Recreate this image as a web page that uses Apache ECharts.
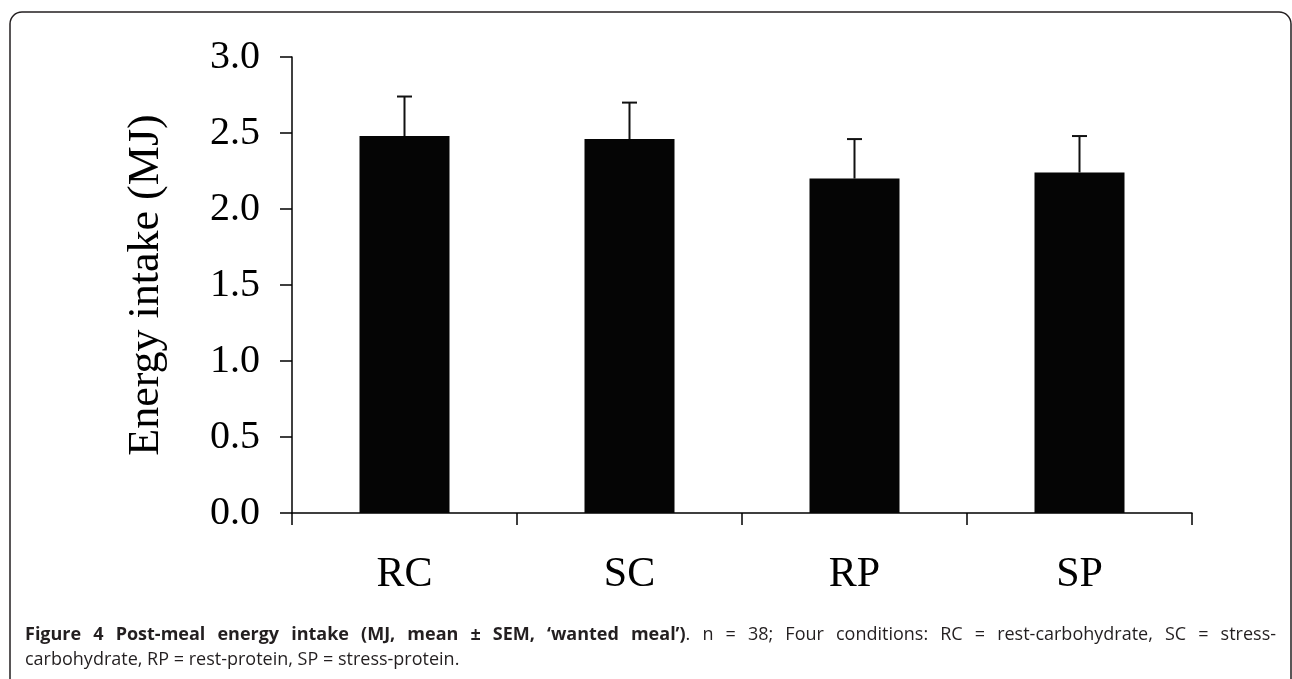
<!DOCTYPE html>
<html>
<head>
<meta charset="utf-8">
<script src="https://cdn.jsdelivr.net/npm/echarts@6/dist/echarts.min.js"></script>
<style>
html,body{margin:0;padding:0;background:#fff;}
#chart{width:1292px;height:679px;}
</style>
</head>
<body>
<div id="chart"></div>
<script>
var categories = ['RC', 'SC', 'RP', 'SP'];
var meanValues = [2.48, 2.46, 2.20, 2.24];
var semValues = [0.26, 0.24, 0.26, 0.24];
var yTicks = { min: 0, max: 3, interval: 0.5 };
var yAxisTitle = 'Energy intake (MJ)';
var captionBold = 'Figure 4 Post-meal energy intake (MJ, mean ± SEM, ‘wanted meal’)';
var captionRest1 = '. n = 38; Four conditions: RC = rest-carbohydrate, SC = stress-';
var captionLine2 = 'carbohydrate, RP = rest-protein, SP = stress-protein.';

var chart = echarts.init(document.getElementById('chart'));
var serif = '"Liberation Serif", "Times New Roman", serif';
var sans = '"Open Sans", "Noto Sans", sans-serif';
var capSize = 18;
var capColor = '#231f20';

var errData = meanValues.map(function (v, i) { return [i, v, v + semValues[i]]; });

// ---- justified first caption line (text layout only) ----
var ctx = document.createElement('canvas').getContext('2d');
function measure(t, bold) {
  ctx.font = (bold ? 'bold ' : '') + capSize + 'px ' + sans;
  return ctx.measureText(t).width;
}
var tokens = captionBold.split(' ').map(function (w) { return [{ t: w, b: true }]; });
var restStr = captionRest1;
if (restStr.charAt(0) === '.') {
  tokens[tokens.length - 1].push({ t: '.', b: false });
  restStr = restStr.slice(1);
}
restStr.trim().split(' ').forEach(function (w) { tokens.push([{ t: w, b: false }]); });
var tokWidths = tokens.map(function (tk) {
  return tk.reduce(function (s, seg) { return s + measure(seg.t, seg.b); }, 0);
});
var lineLeft = 25, lineRight = 1276;
var totalW = tokWidths.reduce(function (a, b) { return a + b; }, 0);
var gap = (lineRight - lineLeft - totalW) / (tokens.length - 1);
var captionGraphics = [];
var cx = lineLeft;
tokens.forEach(function (tk, i) {
  var txt = tk.map(function (seg) { return '{' + (seg.b ? 'b' : 'n') + '|' + seg.t + '}'; }).join('');
  captionGraphics.push({
    type: 'text', x: cx, y: 626, silent: true,
    style: {
      text: txt, align: 'left', verticalAlign: 'top',
      rich: {
        b: { fontFamily: sans, fontSize: capSize, fontWeight: 'bold', fill: capColor },
        n: { fontFamily: sans, fontSize: capSize, fill: capColor }
      }
    }
  });
  cx += tokWidths[i] + gap;
});
captionGraphics.push({
  type: 'text', x: lineLeft, y: 651, silent: true,
  style: { text: captionLine2, fontFamily: sans, fontSize: capSize, fill: capColor, align: 'left', verticalAlign: 'top' }
});

chart.setOption({
  animation: false,
  grid: { left: 292, right: 100, top: 57, bottom: 166, containLabel: false },
  xAxis: {
    type: 'category',
    data: categories,
    axisLine: { lineStyle: { color: '#000', width: 1.5 } },
    axisTick: { show: true, length: 12, inside: false, lineStyle: { color: '#000', width: 1.5 } },
    axisLabel: { color: '#000', fontFamily: serif, fontSize: 42, margin: 41, lineHeight: 42 },
    splitLine: { show: false }
  },
  yAxis: {
    type: 'value',
    min: yTicks.min, max: yTicks.max, interval: yTicks.interval,
    name: yAxisTitle,
    nameLocation: 'middle',
    nameGap: 124,
    nameTextStyle: { color: '#000', fontFamily: serif, fontSize: 44 },
    axisLine: { show: true, lineStyle: { color: '#000', width: 1.5 } },
    axisTick: { show: true, length: 12, inside: false, lineStyle: { color: '#000', width: 1.5 } },
    axisLabel: { color: '#000', fontFamily: serif, fontSize: 40, margin: 32,
      formatter: function (v) { return v.toFixed(1); } },
    splitLine: { show: false }
  },
  series: [
    {
      type: 'bar',
      data: meanValues,
      barWidth: '40%',
      itemStyle: { color: '#050505' },
      z: 2
    },
    {
      type: 'custom',
      data: errData,
      z: 3,
      renderItem: function (params, api) {
        var x = api.value(0);
        var base = api.coord([x, api.value(1)]);
        var top = api.coord([x, api.value(2)]);
        var hw = 7.5;
        return {
          type: 'group',
          children: [
            { type: 'line', shape: { x1: base[0], y1: base[1], x2: top[0], y2: top[1] },
              style: { stroke: '#111', lineWidth: 2 } },
            { type: 'line', shape: { x1: top[0] - hw, y1: top[1], x2: top[0] + hw, y2: top[1] },
              style: { stroke: '#111', lineWidth: 2 } }
          ]
        };
      }
    }
  ],
  graphic: [
    {
      type: 'rect',
      shape: { x: 10, y: 12, width: 1281, height: 720, r: 12 },
      style: { fill: 'none', stroke: '#231f20', lineWidth: 1.5 },
      silent: true
    }
  ].concat(captionGraphics)
});
</script>
</body>
</html>
